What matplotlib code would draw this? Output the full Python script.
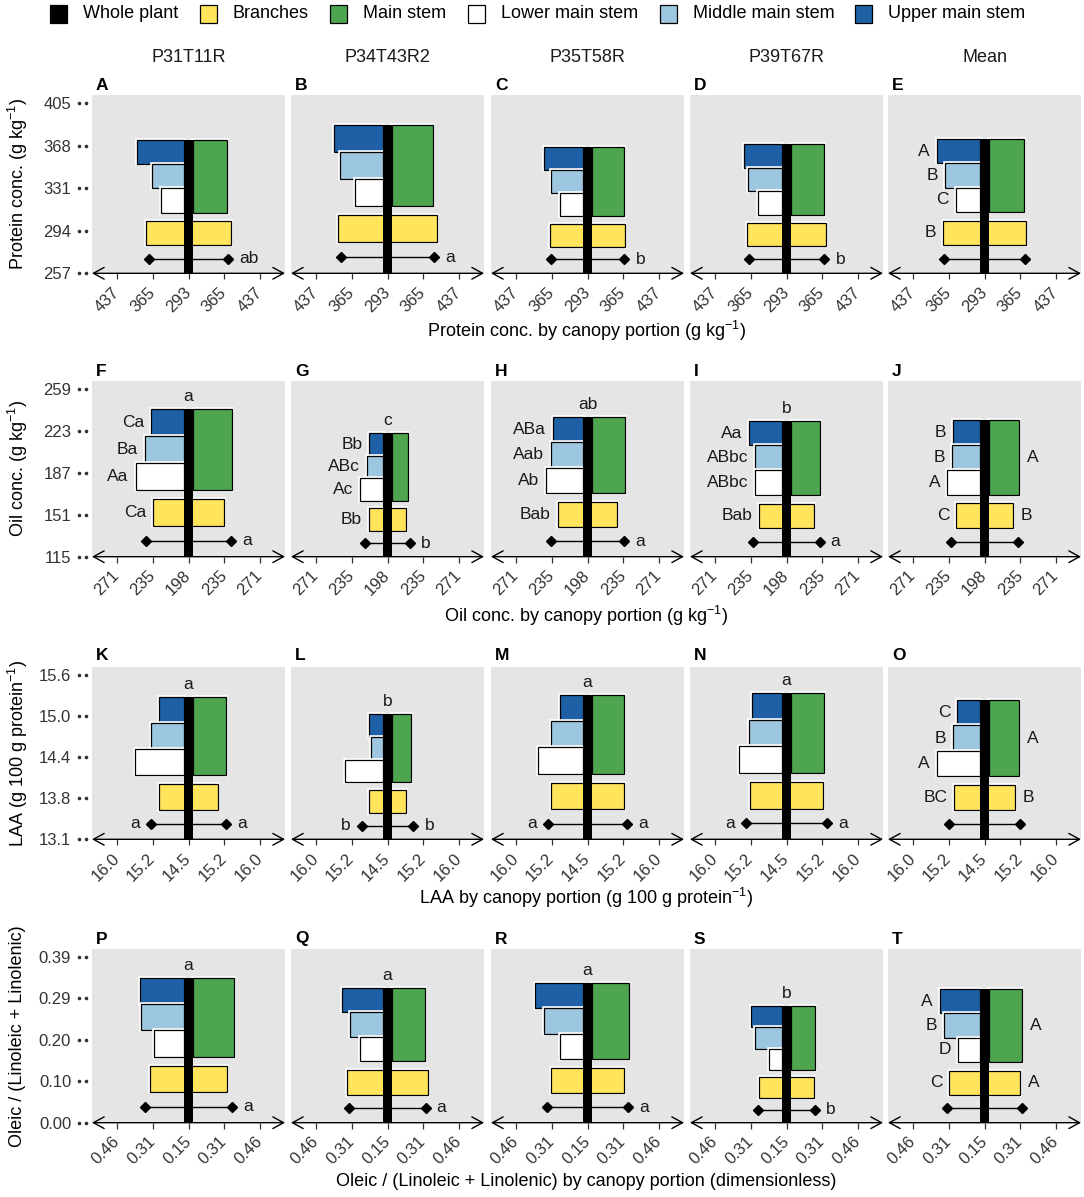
import matplotlib
matplotlib.use('Agg')
import matplotlib.pyplot as plt
from matplotlib.patches import Rectangle
import matplotlib.patheffects as pe
import matplotlib.transforms as mtransforms

plt.rcParams['font.family'] = ['Liberation Sans', 'DejaVu Sans']
plt.rcParams['mathtext.fontset'] = 'custom'
plt.rcParams['mathtext.rm'] = 'Liberation Sans'
plt.rcParams['mathtext.it'] = 'Liberation Sans:italic'
plt.rcParams['mathtext.default'] = 'regular'

# ---------------- data ----------------
cultivars = ['P31T11R', 'P34T43R2', 'P35T58R', 'P39T67R', 'Mean']
panel_ids = ['ABCDE', 'FGHIJ', 'KLMNO', 'PQRST']
legend_labels = ['Whole plant', 'Branches', 'Main stem', 'Lower main stem',
                 'Middle main stem', 'Upper main stem']

# Protein (g kg-1)
protein_whole = [373.0, 386.0, 367.2, 369.3, 373.9]
protein_upper = [397.0, 399.8, 379.8, 379.0, 389.0]
protein_middle = [365.8, 388.2, 366.0, 369.8, 373.0]
protein_lower = [348.0, 357.5, 349.0, 349.8, 351.0]
protein_main = [370.0, 384.4, 366.0, 368.3, 372.4]
protein_branch = [378.5, 392.8, 368.6, 371.7, 377.0]

# Oil (g kg-1)
oil_whole = [241.6, 221.0, 235.3, 231.8, 232.4]
oil_upper = [236.1, 216.7, 233.7, 236.4, 230.3]
oil_middle = [243.0, 218.8, 235.6, 229.9, 231.4]
oil_lower = [252.0, 226.0, 240.2, 229.9, 236.0]
oil_main = [243.0, 218.5, 236.4, 232.6, 233.0]
oil_branch = [234.0, 217.4, 228.7, 225.8, 226.8]

# LAA (g 100 g protein-1)
laa_whole = [15.28, 15.03, 15.32, 15.34, 15.24]
laa_upper = [15.11, 14.88, 15.07, 15.21, 15.06]
laa_middle = [15.27, 14.84, 15.26, 15.28, 15.15]
laa_lower = [15.61, 15.39, 15.54, 15.50, 15.50]
laa_main = [15.28, 14.99, 15.26, 15.28, 15.21]
laa_branch = [15.10, 14.87, 15.26, 15.26, 15.12]

# Oleic / (Linoleic + Linolenic)
ratio_whole = [0.341, 0.317, 0.329, 0.274, 0.314]
ratio_upper = [0.363, 0.348, 0.379, 0.304, 0.346]
ratio_middle = [0.360, 0.316, 0.340, 0.287, 0.327]
ratio_lower = [0.301, 0.272, 0.270, 0.230, 0.266]
ratio_main = [0.348, 0.315, 0.333, 0.274, 0.315]
ratio_branch = [0.318, 0.327, 0.311, 0.270, 0.305]

# letters: top of whole plant, left of upper/middle/lower/branches,
# right of main stem/branches, left/right of whole-plant whisker
protein_top = ['', '', '', '', '']
protein_up_l = ['', '', '', '', 'A']
protein_mid_l = ['', '', '', '', 'B']
protein_low_l = ['', '', '', '', 'C']
protein_br_l = ['', '', '', '', 'B']
protein_main_r = ['', '', '', '', '']
protein_br_r = ['', '', '', '', '']
protein_wh_l = ['', '', '', '', '']
protein_wh_r = ['ab', 'a', 'b', 'b', '']

oil_top = ['a', 'c', 'ab', 'b', '']
oil_up_l = ['Ca', 'Bb', 'ABa', 'Aa', 'B']
oil_mid_l = ['Ba', 'ABc', 'Aab', 'ABbc', 'B']
oil_low_l = ['Aa', 'Ac', 'Ab', 'ABbc', 'A']
oil_br_l = ['Ca', 'Bb', 'Bab', 'Bab', 'C']
oil_main_r = ['', '', '', '', 'A']
oil_br_r = ['', '', '', '', 'B']
oil_wh_l = ['', '', '', '', '']
oil_wh_r = ['a', 'b', 'a', 'a', '']

laa_top = ['a', 'b', 'a', 'a', '']
laa_up_l = ['', '', '', '', 'C']
laa_mid_l = ['', '', '', '', 'B']
laa_low_l = ['', '', '', '', 'A']
laa_br_l = ['', '', '', '', 'BC']
laa_main_r = ['', '', '', '', 'A']
laa_br_r = ['', '', '', '', 'B']
laa_wh_l = ['a', 'b', 'a', 'a', '']
laa_wh_r = ['a', 'b', 'a', 'a', '']

ratio_top = ['a', 'a', 'a', 'b', '']
ratio_up_l = ['', '', '', '', 'A']
ratio_mid_l = ['', '', '', '', 'B']
ratio_low_l = ['', '', '', '', 'D']
ratio_br_l = ['', '', '', '', 'C']
ratio_main_r = ['', '', '', '', 'A']
ratio_br_r = ['', '', '', '', 'A']
ratio_wh_l = ['', '', '', '', '']
ratio_wh_r = ['a', 'a', 'a', 'b', '']

# axis scales: centre value, x tick step, y origin, y tick step
x_centers = [293.0, 198.0, 14.48, 0.152]
x_steps = [72.0, 36.6, 0.76, 0.155]
y_origins = [257.0, 115.0, 13.14, 0.0]
y_steps = [37.0, 36.0, 0.62, 0.0975]
x_ticklabels = [['437', '365', '293', '365', '437'],
                ['271', '235', '198', '235', '271'],
                ['16.0', '15.2', '14.5', '15.2', '16.0'],
                ['0.46', '0.31', '0.15', '0.31', '0.46']]
y_ticklabels = [['257', '294', '331', '368', '405'],
                ['115', '151', '187', '223', '259'],
                ['13.1', '13.8', '14.4', '15.0', '15.6'],
                ['0.00', '0.10', '0.20', '0.29', '0.39']]
y_titles = ['Protein conc. (g kg$^{-1}$)', 'Oil conc. (g kg$^{-1}$)',
            'LAA (g 100 g protein$^{-1}$)', 'Oleic / (Linoleic + Linolenic)']
x_titles = ['Protein conc. by canopy portion (g kg$^{-1}$)',
            'Oil conc. by canopy portion (g kg$^{-1}$)',
            'LAA by canopy portion (g 100 g protein$^{-1}$)',
            'Oleic / (Linoleic + Linolenic) by canopy portion (dimensionless)']

rows = [
    dict(whole=protein_whole, upper=protein_upper, middle=protein_middle, lower=protein_lower,
         main=protein_main, branch=protein_branch, top=protein_top, up_l=protein_up_l,
         mid_l=protein_mid_l, low_l=protein_low_l, br_l=protein_br_l, main_r=protein_main_r,
         br_r=protein_br_r, wh_l=protein_wh_l, wh_r=protein_wh_r),
    dict(whole=oil_whole, upper=oil_upper, middle=oil_middle, lower=oil_lower,
         main=oil_main, branch=oil_branch, top=oil_top, up_l=oil_up_l,
         mid_l=oil_mid_l, low_l=oil_low_l, br_l=oil_br_l, main_r=oil_main_r,
         br_r=oil_br_r, wh_l=oil_wh_l, wh_r=oil_wh_r),
    dict(whole=laa_whole, upper=laa_upper, middle=laa_middle, lower=laa_lower,
         main=laa_main, branch=laa_branch, top=laa_top, up_l=laa_up_l,
         mid_l=laa_mid_l, low_l=laa_low_l, br_l=laa_br_l, main_r=laa_main_r,
         br_r=laa_br_r, wh_l=laa_wh_l, wh_r=laa_wh_r),
    dict(whole=ratio_whole, upper=ratio_upper, middle=ratio_middle, lower=ratio_lower,
         main=ratio_main, branch=ratio_branch, top=ratio_top, up_l=ratio_up_l,
         mid_l=ratio_mid_l, low_l=ratio_low_l, br_l=ratio_br_l, main_r=ratio_main_r,
         br_r=ratio_br_r, wh_l=ratio_wh_l, wh_r=ratio_wh_r),
]

# ---------------- style / layout ----------------
FW, FH = 1084, 1197
C_UPPER = '#1F5FA6'
C_MIDDLE = '#9DC6E0'
C_LOWER = '#FFFFFF'
C_MAIN = '#4DA64F'
C_BRANCH = '#FFE45C'
C_WHOLE = '#000000'
PANEL_BG = '#E5E5E5'
TXT = '#1A1A1A'
TICKTXT = '#333333'

col_left = [92, 291, 491, 690, 888]
panel_w = 193
row_top = [95, 381, 667, 949]
row_bot = [273.3, 556.7, 839.3, 1122.7]
letter_y = [85, 372, 656, 939]
xtitle_y = [331, 616, 898, 1181]

fig = plt.figure(figsize=(FW / 100, FH / 100), dpi=100)

halo = [pe.Stroke(linewidth=2.6, foreground='white'), pe.Normal()]


def fx(px):
    return px / FW


def fy(py):
    return 1 - py / FH


def bar(ax, x, y, w, h, color):
    r = Rectangle((x, y), w, h, facecolor=color, edgecolor='black', lw=0.9, zorder=2)
    r.set_path_effects(halo)
    ax.add_patch(r)


def note(ax, txt, xy, dx, dy, ha):
    if txt:
        ax.annotate(txt, xy=xy, xytext=(dx, dy), textcoords='offset points',
                    ha=ha, va='center', fontsize=12.5, color=TXT, zorder=6,
                    annotation_clip=False)


for ri, d in enumerate(rows):
    c = x_centers[ri]
    s = x_steps[ri]
    y0 = y_origins[ri]
    ys = y_steps[ri]
    for ci in range(5):
        ax = fig.add_axes([fx(col_left[ci]), fy(row_bot[ri]), fx(panel_w),
                           (row_bot[ri] - row_top[ri]) / FH])
        ax.set_facecolor(PANEL_BG)
        for sp in ax.spines.values():
            sp.set_visible(False)
        ax.set_xlim(-2.7 * s, 2.7 * s)
        ax.set_ylim(y0, y0 + 4.19 * ys)

        wv = d['whole'][ci]
        u = (wv - y0) / 5.5
        hw = 0.133 * s
        up = d['upper'][ci] - c
        mid = d['middle'][ci] - c
        low = d['lower'][ci] - c
        ms = d['main'][ci] - c
        br = d['branch'][ci] - c
        wd = wv - c

        bar(ax, -up, y0 + 4.5 * u, up - hw, u, C_UPPER)
        bar(ax, -mid, y0 + 3.5 * u, mid - hw, u, C_MIDDLE)
        bar(ax, -low, y0 + 2.5 * u, low - hw, u, C_LOWER)
        bar(ax, hw, y0 + 2.5 * u, ms - hw, 3 * u, C_MAIN)
        bar(ax, -br, y0 + 1.15 * u, 2 * br, u, C_BRANCH)
        ax.add_patch(Rectangle((-hw, y0), 2 * hw, wv - y0, facecolor=C_WHOLE,
                               edgecolor='none', zorder=4))
        yw = y0 + 0.6 * u
        ax.plot([-wd, wd], [yw, yw], color='black', lw=1.0, marker='D', ms=5.5,
                zorder=3, clip_on=False)

        note(ax, d['top'][ci], (0, wv), 0, 9, 'center')
        note(ax, d['up_l'][ci], (-up, y0 + 5.0 * u), -5, 0, 'right')
        note(ax, d['mid_l'][ci], (-mid, y0 + 4.0 * u), -5, 0, 'right')
        note(ax, d['low_l'][ci], (-low, y0 + 3.0 * u), -5, 0, 'right')
        note(ax, d['br_l'][ci], (-br, y0 + 1.65 * u), -5, 0, 'right')
        note(ax, d['main_r'][ci], (ms, y0 + 4.0 * u), 6, 0, 'left')
        note(ax, d['br_r'][ci], (br, y0 + 1.65 * u), 6, 0, 'left')
        note(ax, d['wh_l'][ci], (-wd, yw), -8, 0, 'right')
        note(ax, d['wh_r'][ci], (wd, yw), 8, 0, 'left')

        # bottom double arrow axis
        ax.annotate('', xy=(1, 0), xytext=(0, 0), xycoords='axes fraction',
                    arrowprops=dict(arrowstyle='<->,head_length=0.55,head_width=0.3',
                                    color='black', lw=1.0, mutation_scale=14,
                                    shrinkA=0, shrinkB=0),
                    annotation_clip=False, zorder=5)

        xt = [-2 * s, -s, 0, s, 2 * s]
        ax.set_xticks(xt)
        ax.set_xticklabels(x_ticklabels[ri])
        ax.tick_params(axis='x', length=4, width=0.9, color='#333333',
                       labelsize=12, labelcolor=TICKTXT, pad=8)
        for lab in ax.get_xticklabels():
            lab.set_rotation(45)
            lab.set_ha('right')
            lab.set_va('center')
            lab.set_rotation_mode('anchor')

        yt = [y0 + k * ys for k in range(5)]
        ax.set_yticks(yt)
        if ci == 0:
            ax.set_yticklabels(y_ticklabels[ri])
            ax.tick_params(axis='y', length=0, pad=15, labelsize=12,
                           labelcolor=TICKTXT)
            trans = mtransforms.blended_transform_factory(ax.transAxes, ax.transData)
            for yv in yt:
                ax.plot([-0.066, -0.030], [yv, yv], ls='none', marker='o', ms=1.6,
                        color='#333333', transform=trans, clip_on=False)
        else:
            ax.set_yticklabels([])
            ax.tick_params(axis='y', length=0)

        fig.text(fx(col_left[ci] + 4), fy(letter_y[ri]), panel_ids[ri][ci],
                 fontsize=12.5, fontweight='bold', ha='left', va='center', color='black')

    fig.text(fx(col_left[0] + (col_left[4] + panel_w - col_left[0]) / 2), fy(xtitle_y[ri]),
             x_titles[ri], fontsize=13, ha='center', va='center', color='black')
    fig.text(fx(18), fy((row_top[ri] + row_bot[ri]) / 2), y_titles[ri], fontsize=13,
             ha='center', va='center', rotation=90, color='black')

for ci in range(5):
    fig.text(fx(col_left[ci] + panel_w / 2), fy(58), cultivars[ci], fontsize=13,
             ha='center', va='center', color=TXT)

# legend
leg_x = [50, 200, 330, 468, 660, 855]
leg_cols = [C_WHOLE, C_BRANCH, C_MAIN, C_LOWER, C_MIDDLE, C_UPPER]
for lx, lc, lt in zip(leg_x, leg_cols, legend_labels):
    fig.patches.append(Rectangle((fx(lx), fy(14 + 8.5)), 17 / FW, 17 / FH,
                                 transform=fig.transFigure, facecolor=lc,
                                 edgecolor='black', lw=0.9))
    fig.text(fx(lx + 33), fy(14), lt, fontsize=13, ha='left', va='center', color='black')

fig.savefig('out.png', dpi=100)
